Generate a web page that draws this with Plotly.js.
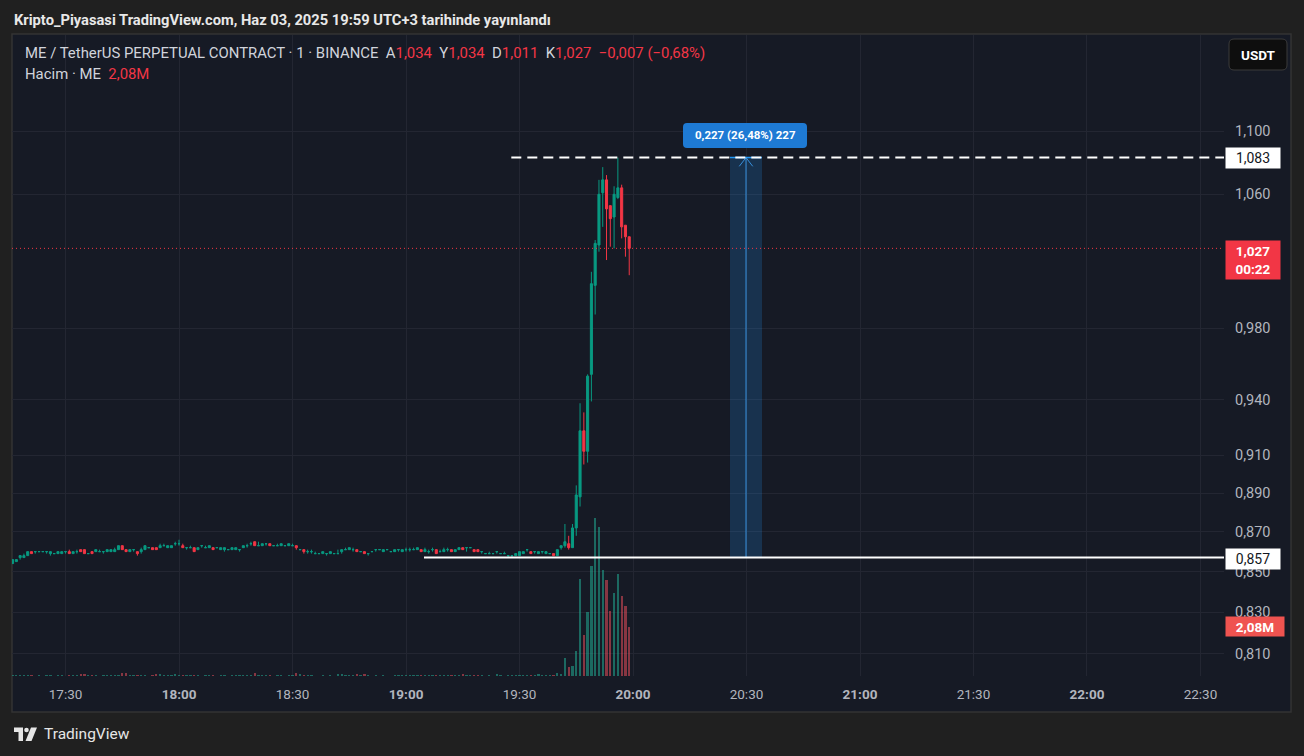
<!DOCTYPE html>
<html><head><meta charset="utf-8">
<script src="https://cdn.plot.ly/plotly-3.0.1.min.js"></script>
<style>html,body{margin:0;padding:0;background:#202020;}#chart{width:1304px;height:756px;}</style>
</head><body><div id="chart"></div>
<script>
// ---- DATA (ME/USDT perpetual, 1-minute candles, first candle 17:16) ----
const firstCandle = [2025, 5, 3, 17, 16];
const open = [
.854,.855,.857,.857,.858,.860,.860,.860,.860,.860,
.859,.859,.859,.859,.860,.860,.859,.860,.861,.861,
.859,.860,.860,.860,.860,.860,.860,.860,.861,.863,
.861,.860,.861,.860,.860,.861,.862,.862,.862,.862,
.863,.862,.862,.864,.864,.863,.862,.862,.862,.861,
.863,.862,.862,.862,.862,.861,.861,.861,.861,.861,
.861,.862,.863,.864,.865,.863,.863,.864,.864,.863,
.863,.863,.863,.863,.863,.863,.861,.861,.860,.860,
.859,.859,.859,.859,.859,.859,.859,.860,.861,.861,
.861,.861,.860,.860,.859,.860,.861,.861,.860,.861,
.860,.860,.861,.860,.861,.861,.861,.861,.861,.860,
.860,.861,.861,.860,.860,.861,.861,.860,.861,.862,
.862,.862,.861,.861,.860,.859,.859,.859,.860,.859,
.859,.858,.858,.858,.858,.859,.861,.860,.860,.859,
.860,.859,.859,.859,.858,.862,.863,.864,.862,.872,
.888,.923,.912,.954,1.005,1.029,1.061,1.069,1.053,1.046,
1.058,1.064,1.041,1.034];
const high = [
.856,.856,.858,.859,.860,.860,.860,.860,.860,.860,
.860,.859,.860,.860,.860,.861,.860,.861,.861,.861,
.859,.860,.861,.861,.860,.861,.861,.862,.863,.863,
.861,.861,.861,.860,.862,.863,.862,.862,.862,.864,
.864,.863,.863,.865,.866,.864,.862,.863,.862,.862,
.863,.863,.863,.862,.862,.862,.862,.861,.862,.862,
.861,.863,.864,.865,.865,.865,.864,.864,.864,.863,
.864,.864,.863,.864,.864,.863,.861,.861,.861,.861,
.860,.859,.860,.859,.860,.859,.861,.861,.862,.862,
.862,.861,.860,.860,.859,.860,.861,.861,.861,.861,
.860,.861,.861,.861,.862,.862,.862,.862,.861,.862,
.861,.862,.861,.861,.862,.862,.861,.861,.862,.862,
.862,.862,.861,.861,.860,.859,.860,.859,.860,.859,
.860,.858,.858,.859,.860,.860,.861,.860,.860,.860,
.860,.860,.859,.859,.861,.863,.874,.868,.874,.894,
.938,.933,.954,1.013,1.032,1.069,1.077,1.072,1.053,1.065,
1.083,1.066,1.041,1.034];
const low = [
.854,.855,.856,.857,.858,.859,.859,.860,.860,.859,
.858,.859,.859,.859,.859,.859,.859,.859,.860,.859,
.859,.859,.860,.860,.859,.860,.860,.860,.861,.861,
.860,.860,.860,.858,.859,.861,.862,.861,.861,.862,
.863,.862,.862,.863,.863,.862,.861,.862,.860,.861,
.862,.862,.862,.861,.862,.861,.860,.861,.861,.861,
.860,.862,.862,.863,.863,.863,.863,.863,.863,.863,
.863,.863,.863,.863,.863,.861,.861,.859,.859,.859,
.859,.859,.859,.858,.859,.859,.859,.859,.861,.861,
.860,.860,.860,.859,.858,.860,.860,.861,.860,.861,
.860,.860,.860,.860,.860,.860,.861,.861,.860,.860,
.859,.860,.859,.860,.860,.860,.860,.860,.861,.861,
.860,.862,.860,.860,.859,.859,.859,.859,.859,.859,
.859,.857,.857,.858,.858,.859,.860,.859,.859,.859,
.859,.859,.859,.858,.858,.861,.862,.861,.862,.868,
.883,.905,.906,.939,.988,1.025,1.040,1.020,1.028,1.027,
1.057,1.033,1.022,1.011];
const close = [
.856,.856,.858,.858,.860,.859,.860,.860,.860,.860,
.860,.859,.860,.860,.860,.859,.860,.860,.860,.859,
.859,.859,.861,.860,.860,.861,.861,.861,.863,.861,
.860,.861,.861,.859,.861,.863,.862,.861,.861,.863,
.863,.863,.863,.864,.864,.862,.862,.862,.860,.862,
.863,.862,.863,.861,.862,.862,.862,.861,.862,.862,
.861,.863,.863,.864,.863,.863,.864,.864,.863,.863,
.863,.864,.863,.864,.863,.862,.861,.860,.860,.860,
.859,.859,.860,.859,.860,.859,.859,.861,.861,.862,
.861,.860,.860,.859,.859,.860,.861,.861,.861,.861,
.860,.861,.861,.861,.861,.861,.861,.862,.860,.861,
.860,.861,.859,.860,.861,.861,.860,.861,.862,.861,
.862,.862,.860,.860,.860,.859,.859,.859,.860,.859,
.859,.858,.858,.859,.860,.860,.861,.859,.860,.860,
.860,.860,.859,.858,.861,.863,.865,.862,.872,.889,
.923,.912,.953,1.006,1.030,1.060,1.069,1.051,1.045,1.060,
1.064,1.040,1.034,1.027];
// volume in thousands of ME
const volumeK = [
30,25,40,35,45,30,20,25,20,30,
35,20,30,25,20,40,30,25,90,100,
30,40,35,20,25,30,35,40,60,120,
110,35,25,45,40,55,20,30,85,70,
30,35,40,90,60,45,25,30,50,35,
20,25,35,40,20,30,35,20,30,35,
25,40,45,50,110,60,35,30,40,20,
25,35,20,30,25,120,100,45,30,25,
20,15,30,20,30,15,90,80,35,40,
35,85,25,80,30,20,30,20,35,20,
20,30,25,35,40,35,30,45,40,35,
30,35,50,25,40,35,30,35,40,80,
30,25,45,40,30,20,25,20,80,25,
20,35,30,35,60,45,40,40,30,90,
42,42,40,40,125,85,750,375,415,1080,
4120,1750,2700,4660,6700,6320,4490,4080,2750,3540,
4330,3410,2950,2080];
const priceTickVals = [0.81,0.83,0.85,0.87,0.89,0.91,0.94,0.98,1.06,1.10];
const priceTickText = ['0,810','0,830','0,850','0,870','0,890','0,910','0,940','0,980','1,060','1,100'];
const timeTickVals = ['2025-06-03 17:30','2025-06-03 18:00','2025-06-03 18:30','2025-06-03 19:00','2025-06-03 19:30','2025-06-03 20:00','2025-06-03 20:30','2025-06-03 21:00','2025-06-03 21:30','2025-06-03 22:00','2025-06-03 22:30'];
const timeTickText = ['17:30','<b>18:00</b>','18:30','<b>19:00</b>','19:30','<b>20:00</b>','20:30','<b>21:00</b>','21:30','<b>22:00</b>','22:30'];
const xRange = ['2025-06-03 17:15:51','2025-06-03 22:36:13'];
// drawings
const highLevel = 1.083, lowLevel = 0.857;
const highLineStart = '2025-06-03 19:27:50';
const lowLineStart = '2025-06-03 19:04:45';
const measureStart = '2025-06-03 20:25:38', measureEnd = '2025-06-03 20:34:06', measureMid = '2025-06-03 20:29:52';
const arrowWingL = '2025-06-03 20:28:05', arrowWingR = '2025-06-03 20:31:39', arrowWingPrice = 1.0775;
const measureLabel = '0,227 (26,48%) 227';
const countdown = '00:22';
const publishedText = 'Kripto_Piyasasi TradingView.com, Haz 03, 2025 19:59 UTC+3 tarihinde yayınlandı';

// ---- helpers ----
const UP = '#089981', DOWN = '#f23645';
const times = open.map((_, i) => {
  const d = new Date(Date.UTC(firstCandle[0], firstCandle[1], firstCandle[2], firstCandle[3], firstCandle[4] + i));
  return d.toISOString().slice(0, 19).replace('T', ' ');
});
const fmt = v => v.toFixed(3).replace('.', ',');
const W = 1304, H = 756, ML = 12, MR = 80, MT = 35, MB = 80;
const PW = W - ML - MR, PH = H - MT - MB;
const px = x => (x - ML) / PW;
const py = y => (H - MB - y) / PH;
function roundRect(x0, y0, x1, y1, r) {
  const k = r / PW, kv = r / PH;
  const a = px(x0), b = px(x1), t = py(y0), u = py(y1);
  return `M${a + k},${t} L${b - k},${t} Q${b},${t} ${b},${t - kv} L${b},${u + kv} Q${b},${u} ${b - k},${u} L${a + k},${u} Q${a},${u} ${a},${u + kv} L${a},${t - kv} Q${a},${t} ${a + k},${t} Z`;
}

// split candles by direction (TradingView colours flat candles as up)
const upIdx = [], dnIdx = [];
open.forEach((o, i) => (close[i] >= o ? upIdx : dnIdx).push(i));
const pick = (arr, idx) => idx.map(i => arr[i]);
const candleTrace = (idx, col) => ({
  type: 'candlestick', xaxis: 'x', yaxis: 'y2',
  x: pick(times, idx), open: pick(open, idx), high: pick(high, idx), low: pick(low, idx), close: pick(close, idx),
  increasing: {line: {color: col, width: 1}, fillcolor: col},
  decreasing: {line: {color: col, width: 1}, fillcolor: col},
  whiskerwidth: 0, hoverinfo: 'skip'
});

const volColors = open.map((o, i) => close[i] >= o ? 'rgba(34,171,148,0.55)' : 'rgba(247,82,95,0.5)');
const volTrace = {
  type: 'bar', xaxis: 'x', yaxis: 'y',
  x: times, y: volumeK.map(v => v * 1000),
  width: 60000 * 0.6, marker: {color: volColors, line: {width: 0}}, hoverinfo: 'skip'
};

const last = open.length - 1;
const lastClose = close[last];
const chg = close[last] - close[last - 1];
const pct = chg / close[last - 1] * 100;
const lastVol = volumeK[last] * 1000;

const traces = [
  volTrace,
  {type: 'scatter', mode: 'lines', xaxis: 'x', yaxis: 'y2',
   x: [measureStart, measureEnd, measureEnd, measureStart, measureStart],
   y: [lowLevel, lowLevel, highLevel, highLevel, lowLevel],
   fill: 'toself', fillcolor: 'rgba(33,150,243,0.2)', line: {width: 0}, hoverinfo: 'skip'},
  {type: 'scatter', mode: 'lines', xaxis: 'x', yaxis: 'y2',
   x: [measureStart, measureEnd], y: [highLevel, highLevel], line: {color: '#2196f3', width: 1.5}, hoverinfo: 'skip'},
  {type: 'scatter', mode: 'lines', xaxis: 'x', yaxis: 'y2',
   x: [measureMid, measureMid], y: [lowLevel, highLevel], line: {color: 'rgba(60,160,245,0.85)', width: 1}, hoverinfo: 'skip'},
  {type: 'scatter', mode: 'lines', xaxis: 'x', yaxis: 'y2',
   x: [arrowWingL, measureMid, arrowWingR], y: [arrowWingPrice, highLevel, arrowWingPrice], line: {color: 'rgba(60,160,245,0.85)', width: 1}, hoverinfo: 'skip'},
  {type: 'scatter', mode: 'lines', xaxis: 'x', yaxis: 'y2',
   x: xRange, y: [lastClose, lastClose], line: {color: DOWN, width: 1, dash: '1px,3px'}, hoverinfo: 'skip'},
  candleTrace(upIdx, UP),
  candleTrace(dnIdx, DOWN),
  {type: 'scatter', mode: 'lines', xaxis: 'x', yaxis: 'y2',
   x: [highLineStart, xRange[1]], y: [highLevel, highLevel], line: {color: '#ffffff', width: 2, dash: '10px,6px'}, hoverinfo: 'skip'},
  {type: 'scatter', mode: 'lines', xaxis: 'x', yaxis: 'y2',
   x: [lowLineStart, xRange[1]], y: [lowLevel, lowLevel], line: {color: '#ffffff', width: 2}, hoverinfo: 'skip'}
];

const grey = '#d1d4dc', red = '#f23645';
const sp = (c, t) => `<span style="color:${c}">${t}</span>`;
const header1 = sp(grey, 'ME / TetherUS PERPETUAL CONTRACT · 1 · BINANCE  A') + sp(red, fmt(open[last])) +
  sp(grey, '  Y') + sp(red, fmt(high[last])) + sp(grey, '  D') + sp(red, fmt(low[last])) +
  sp(grey, '  K') + sp(red, fmt(close[last])) + sp(red, '  −' + fmt(Math.abs(chg)) + ' (−' + Math.abs(pct).toFixed(2).replace('.', ',') + '%)');
const header2 = sp(grey, 'Hacim · ME  ') + sp(red, (lastVol / 1e6).toFixed(2).replace('.', ',') + 'M');

const FAM = 'Roboto, Noto Sans, sans-serif';
const annFont = (size, color, weight) => ({family: FAM, size, color, weight: weight || 'normal'});

const layout = {
  width: W, height: H,
  margin: {l: ML, r: MR, t: MT, b: MB, pad: 0},
  paper_bgcolor: '#202020', plot_bgcolor: 'rgba(0,0,0,0)',
  separators: ',.', showlegend: false, boxgap: 0.22, bargap: 0,
  xaxis: {type: 'date', range: xRange, tickmode: 'array', tickvals: timeTickVals, ticktext: timeTickText,
    showgrid: true, gridcolor: '#232632', gridwidth: 1, zeroline: false, showline: false, ticks: '',
    tickfont: {family: FAM, size: 13.5, color: '#b2b5be'}, ticklabelstandoff: 8, rangeslider: {visible: false}, fixedrange: true},
  yaxis: {range: [0, 27.2e6], visible: false, fixedrange: true},
  yaxis2: {type: 'log', overlaying: 'y', side: 'right', range: [-0.097108, 0.065790],
    tickmode: 'array', tickvals: priceTickVals, ticktext: priceTickText,
    showgrid: true, gridcolor: '#232632', zeroline: false, showline: false, ticks: '',
    tickfont: {family: FAM, size: 14.5, color: '#b2b5be'}, ticklabelstandoff: 10, fixedrange: true},
  shapes: [
    {type: 'rect', xref: 'paper', yref: 'paper', layer: 'below', x0: px(12), x1: px(1291), y0: py(712), y1: py(34),
     fillcolor: '#161a25', line: {color: '#333333', width: 1.5}},
    {type: 'path', xref: 'paper', yref: 'paper', layer: 'above', path: roundRect(1229, 39, 1287, 70, 5),
     fillcolor: '#0e0e0e', line: {color: '#3a3a3a', width: 1}},
    {type: 'path', xref: 'paper', yref: 'paper', layer: 'above', path: roundRect(683, 123, 807, 148, 4),
     fillcolor: '#1e7ad4', line: {width: 0}},
    {type: 'path', xref: 'paper', yref: 'paper', layer: 'above',
     path: `M${px(14)},${py(727.5)} L${px(23)},${py(727.5)} L${px(23)},${py(741)} L${px(18.5)},${py(741)} L${px(18.5)},${py(732)} L${px(14)},${py(732)} Z`,
     fillcolor: '#e6e6e6', line: {width: 0}},
    {type: 'circle', xref: 'paper', yref: 'paper', layer: 'above',
     x0: px(24.2), x1: px(28.8), y0: py(732.3), y1: py(727.7), fillcolor: '#e6e6e6', line: {width: 0}},
    {type: 'path', xref: 'paper', yref: 'paper', layer: 'above',
     path: `M${px(31)},${py(727.5)} L${px(37)},${py(727.5)} L${px(31.5)},${py(741)} L${px(25.5)},${py(741)} Z`,
     fillcolor: '#e6e6e6', line: {width: 0}}
  ],
  annotations: [
    {xref: 'paper', yref: 'paper', x: px(12), y: py(20), xanchor: 'left', yanchor: 'middle', showarrow: false,
     text: publishedText, font: annFont(14.7, '#e8e8e8', 'bold')},
    {xref: 'paper', yref: 'paper', x: px(23), y: py(53), xanchor: 'left', yanchor: 'middle', showarrow: false,
     text: header1, font: annFont(14.9, grey)},
    {xref: 'paper', yref: 'paper', x: px(23), y: py(74), xanchor: 'left', yanchor: 'middle', showarrow: false,
     text: header2, font: annFont(14.9, grey)},
    {xref: 'paper', yref: 'paper', x: px(1258), y: py(55), xanchor: 'center', yanchor: 'middle', showarrow: false,
     text: 'USDT', font: annFont(13.5, '#ffffff', 'bold')},
    {xref: 'paper', yref: 'paper', x: px(745), y: py(135.5), xanchor: 'center', yanchor: 'middle', showarrow: false,
     text: measureLabel, font: annFont(11.5, '#ffffff', 'bold')},
    {xref: 'paper', yref: 'y2', x: px(1225), y: Math.log10(highLevel), xanchor: 'left', yanchor: 'middle', showarrow: false,
     text: fmt(highLevel), bgcolor: '#ffffff', width: 50, height: 16, borderpad: 2, align: 'center', font: annFont(14, '#131722')},
    {xref: 'paper', yref: 'y2', x: px(1225), y: Math.log10(lowLevel), xanchor: 'left', yanchor: 'middle', yshift: -1.5, showarrow: false,
     text: fmt(lowLevel), bgcolor: '#ffffff', width: 50, height: 16, borderpad: 2, align: 'center', font: annFont(14, '#131722')},
    {xref: 'paper', yref: 'y2', x: px(1225), y: Math.log10(lastClose), xanchor: 'left', yanchor: 'top', yshift: 8, showarrow: false,
     text: fmt(lastClose) + '<br>' + countdown, bgcolor: DOWN, width: 50, height: 34, borderpad: 2, align: 'center', font: annFont(13.5, '#ffffff', 'bold')},
    {xref: 'paper', yref: 'y', x: px(1225), y: lastVol, xanchor: 'left', yanchor: 'middle', showarrow: false,
     text: (lastVol / 1e6).toFixed(2).replace('.', ',') + 'M', bgcolor: '#ef5350', width: 54, height: 15, borderpad: 2, align: 'center', font: annFont(13.5, '#ffffff', 'bold')},
    {xref: 'paper', yref: 'paper', x: px(42), y: py(734), xanchor: 'left', yanchor: 'middle', showarrow: false,
     text: 'TradingView', font: annFont(15.5, '#e6e6e6')}
  ]
};

Plotly.newPlot('chart', traces, layout, {displayModeBar: false, staticPlot: true});
</script>
</body></html>
